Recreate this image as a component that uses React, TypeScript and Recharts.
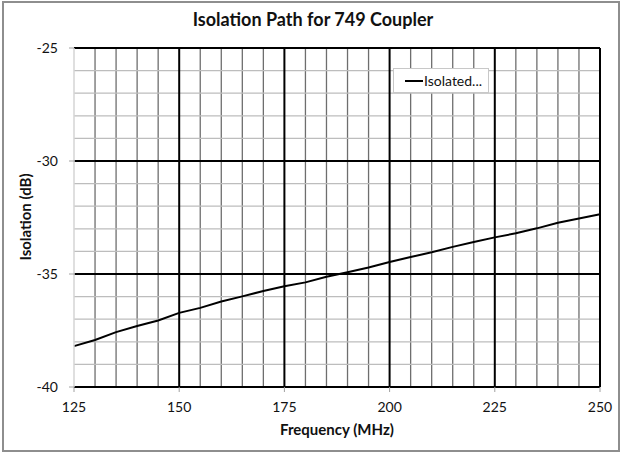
import React from 'react';
import { LineChart, Line, XAxis, YAxis, ReferenceLine, Legend } from 'recharts';

const frequencies = [125, 130, 135, 140, 145, 150, 155, 160, 165, 170, 175, 180, 185, 190, 195, 200, 205, 210, 215, 220, 225, 230, 235, 240, 245, 250];
const isolation = [-38.19, -37.92, -37.57, -37.3, -37.06, -36.72, -36.5, -36.22, -35.99, -35.75, -35.54, -35.37, -35.12, -34.92, -34.71, -34.47, -34.25, -34.04, -33.8, -33.58, -33.38, -33.2, -32.98, -32.73, -32.54, -32.36];
const seriesName = 'Isolated...';

const xTicks = [125, 150, 175, 200, 225, 250];
const yTicks = [-40, -35, -30, -25];
const xMinorGrid = [130, 135, 140, 145, 155, 160, 165, 170, 180, 185, 190, 195, 205, 210, 215, 220, 230, 235, 240, 245];
const xMajorGrid = [150, 175, 200, 225, 250];
const yMinorGrid = [-39, -38, -37, -36, -34, -33, -32, -31, -29, -28, -27, -26];
const yMajorGrid = [-40, -35, -30, -25];

const data = frequencies.map((f, i) => ({ f, v: isolation[i] }));

const FONT = 'Lato, "Open Sans", sans-serif';

const LegendBox = () => (
  <div
    style={{
      width: 96,
      height: 25,
      boxSizing: 'border-box',
      border: '1px solid #c8c8c8',
      background: '#fff',
      display: 'flex',
      alignItems: 'center',
      fontFamily: FONT,
      fontSize: 14,
      color: '#111',
      whiteSpace: 'nowrap',
    }}
  >
    <div style={{ width: 18, height: 2, background: '#000', marginLeft: 11 }} />
    <span style={{ marginLeft: 1 }}>{seriesName}</span>
  </div>
);

export default function App() {
  return (
    <div style={{ position: 'absolute', left: 0, top: 0, width: 621, height: 453, background: '#fff' }}>
      <div
        style={{
          position: 'absolute',
          left: 2,
          top: 1,
          width: 618,
          height: 451,
          boxSizing: 'border-box',
          border: '2px solid #8e8e8e',
        }}
      />
      <LineChart width={621} height={453} data={data} margin={{ top: 48, right: 21, bottom: 0, left: 0 }}>
        {xMinorGrid.map((x) => (
          <ReferenceLine key={'xm' + x} x={x} stroke="#6e6e6e" strokeWidth={1.3} />
        ))}
        {yMinorGrid.map((y) => (
          <ReferenceLine key={'ym' + y} y={y} stroke="#bdbdbd" strokeWidth={1.3} />
        ))}
        {yMajorGrid.map((y) => (
          <ReferenceLine key={'yM' + y} y={y} stroke="#000" strokeWidth={2} />
        ))}
        {xMajorGrid.map((x) => (
          <ReferenceLine key={'xM' + x} x={x} stroke="#000" strokeWidth={2} />
        ))}
        <XAxis
          type="number"
          dataKey="f"
          domain={[125, 250]}
          ticks={xTicks}
          interval={0}
          height={66}
          tickSize={5}
          tickMargin={10}
          axisLine={{ stroke: '#000', strokeWidth: 2 }}
          tickLine={{ stroke: '#a0a0a0' }}
          tick={{ fontFamily: FONT, fontSize: 14, fill: '#111' }}
        />
        <YAxis
          type="number"
          domain={[-40, -25]}
          ticks={yTicks}
          interval={0}
          width={74}
          tickSize={5}
          tickMargin={11}
          axisLine={{ stroke: '#d4d4d4', strokeWidth: 1.5 }}
          tickLine={{ stroke: '#a0a0a0' }}
          tick={{ fontFamily: FONT, fontSize: 14, fill: '#111' }}
        />
        <Legend
          layout="horizontal"
          verticalAlign="middle"
          align="center"
          wrapperStyle={{ position: 'absolute', left: 393, top: 68, width: 96, height: 25 }}
          content={() => <LegendBox />}
        />
        <Line
          type="linear"
          dataKey="v"
          name={seriesName}
          stroke="#000"
          strokeWidth={2}
          dot={false}
          isAnimationActive={false}
        />
      </LineChart>
      <div
        style={{
          position: 'absolute',
          left: 0,
          width: 626,
          top: 8,
          textAlign: 'center',
          fontFamily: FONT,
          fontWeight: 700,
          fontSize: 18,
          color: '#111',
        }}
      >
        Isolation Path for 749 Coupler
      </div>
      <div
        style={{
          position: 'absolute',
          left: 74,
          width: 526,
          top: 420,
          textAlign: 'center',
          fontFamily: FONT,
          fontWeight: 700,
          fontSize: 15,
          color: '#111',
        }}
      >
        Frequency (MHz)
      </div>
      <div
        style={{
          position: 'absolute',
          left: 25 - 100,
          top: 217 - 10,
          width: 200,
          height: 20,
          lineHeight: '20px',
          textAlign: 'center',
          transform: 'rotate(-90deg)',
          fontFamily: FONT,
          fontWeight: 700,
          fontSize: 15,
          color: '#111',
        }}
      >
        Isolation (dB)
      </div>
    </div>
  );
}
